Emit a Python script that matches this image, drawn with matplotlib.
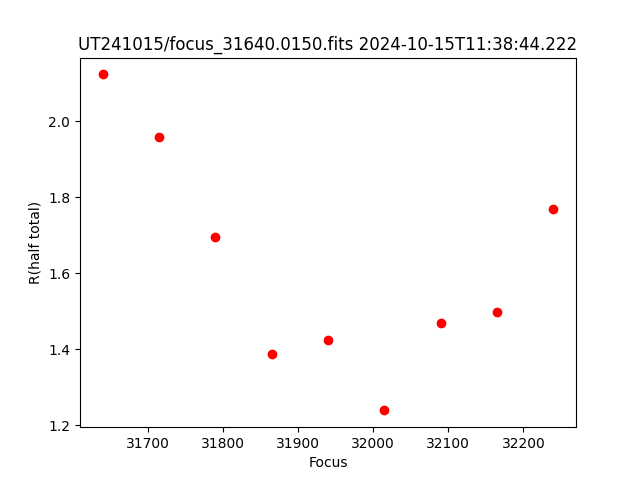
import matplotlib
matplotlib.use("Agg")
import matplotlib.pyplot as plt

focus = [31640, 31715, 31790, 31865, 31940, 32015, 32090, 32165, 32240]
r_half = [2.123, 1.958, 1.694, 1.387, 1.423, 1.239, 1.470, 1.497, 1.768]

fig, ax = plt.subplots(figsize=(6.4, 4.8), dpi=100)
ax.plot(focus, r_half, 'ro')
ax.set_xlabel('Focus')
ax.set_ylabel('R(half total)')
ax.set_title('UT241015/focus_31640.0150.fits 2024-10-15T11:38:44.222')
fig.savefig('out.png')
